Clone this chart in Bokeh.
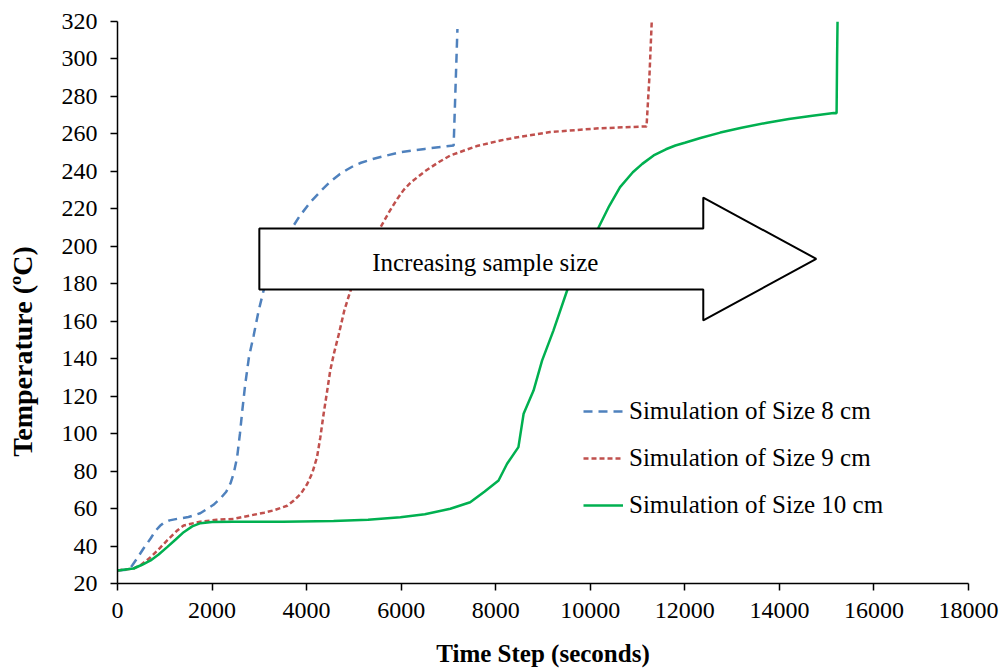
from bokeh.plotting import figure
from bokeh.models import Range1d, FixedTicker, Label, Legend, LegendItem
from bokeh.embed import file_html
from bokeh.resources import INLINE

# ---------------- data ----------------
size8_time = [0, 250, 310, 430, 550, 700, 800, 900, 975, 1100, 1262, 1500, 1750, 2030, 2180, 2300,
              2390, 2460, 2530, 2590, 2640, 2700, 2780, 2880, 2980, 3090, 3300, 3500, 3660, 3850,
              4080, 4300, 4500, 4700, 4860, 5000, 5150, 5400, 5700, 6000, 6500, 7110, 7150, 7190]
size8_temp = [27, 27.5, 29.6, 34, 38.7, 44, 48, 50.8, 52.3, 53.7, 54.5, 55.5, 57.5, 62, 65.5, 69,
              73.5, 79, 87.4, 100, 112.4, 126, 140.8, 152.4, 165, 176.4, 191, 201, 208.5, 216,
              223.6, 229.5, 234.5, 238.5, 241, 243, 244.6, 246.6, 248.5, 250.3, 252, 253.8, 285, 316]

size9_time = [0, 340, 500, 700, 900, 1050, 1250, 1400, 1750, 2100, 2460, 2810, 3100, 3300, 3590,
              3730, 3880, 4010, 4120, 4220, 4290, 4360, 4430, 4500, 4580, 4680, 4800, 4930, 5100,
              5300, 5560, 5750, 5910, 6050, 6200, 6500, 6800, 7040, 7600, 8100, 8520, 9150, 10200,
              11190, 11250, 11300]
size9_temp = [27, 28, 30, 34, 39, 43, 48, 51, 53, 54, 54.5, 56.3, 57.8, 59, 61.5,
              64.3, 68, 73, 79, 87.4, 98, 110.6, 122, 133.7, 143, 153, 166, 176.4, 188,
              199, 210, 218.5, 225, 230, 234, 240, 245, 248.5, 253.5, 256.5, 258.5, 261, 263,
              264, 290, 320]

size10_time = [0, 340, 520, 700, 870, 1050, 1230, 1400, 1580, 1755, 2000, 2460, 3500, 4570, 5300,
               5983, 6500, 7040, 7460, 7760, 8060, 8240, 8480, 8590, 8800, 8980, 9100, 9220,
               9510, 9800, 10000, 10175, 10400, 10630, 10900, 11100, 11340, 11600, 11800, 12000,
               12330, 12750, 13200, 13740, 14200, 14700, 15150, 15210, 15220, 15230]
size10_temp = [27, 28, 30, 32.3, 35.5, 39.4, 43.5, 47.4, 50.5, 52.2, 52.8, 53, 53, 53.3, 54,
               55.4, 57, 59.9, 63.4, 69, 75, 83.9, 92.8, 110.6, 123, 139, 147, 155,
               176.4, 192, 201.5, 210, 221.5, 231.6, 239.5, 244, 248.5, 251.8, 253.8, 255.3,
               257.8, 260.7, 263.3, 266, 268, 269.7, 271.2, 271, 300, 320]

series_names = ["Simulation of Size 8 cm", "Simulation of Size 9 cm", "Simulation of Size 10 cm"]

x_ticks = [0, 2000, 4000, 6000, 8000, 10000, 12000, 14000, 16000, 18000]
y_ticks = [20, 40, 60, 80, 100, 120, 140, 160, 180, 200, 220, 240, 260, 280, 300, 320]

# annotation arrow (data coordinates)
arrow_x = [3000, 12390, 12390, 14780, 12390, 12390, 3000]
arrow_y = [209.5, 209.5, 226, 193.3, 160.4, 177, 177]
arrow_text = "Increasing sample size"

FONT = "Liberation Serif"

p = figure(width=1004, height=671, output_backend="svg", toolbar_location=None,
           x_range=Range1d(0, 18000), y_range=Range1d(20, 320),
           min_border_left=117, min_border_right=36, min_border_top=21, min_border_bottom=88)
p.background_fill_color = "white"
p.border_fill_color = "white"
p.outline_line_color = None
p.xgrid.visible = False
p.ygrid.visible = False

r8 = p.line(size8_time, size8_temp, line_color="#4F81BD", line_width=2.5, line_dash="9 6")
r9 = p.line(size9_time, size9_temp, line_color="#C0504D", line_width=2.5, line_dash="5 3")
r10 = p.line(size10_time, size10_temp, line_color="#00B050", line_width=2.5)

# arrow annotation on top of lines
p.patch(arrow_x, arrow_y, fill_color="white", line_color="black", line_width=2)
p.add_layout(Label(x=7780, y=191.5, text=arrow_text, text_font=FONT, text_font_size="25px",
                   text_align="center", text_baseline="middle", text_color="black"))

for ax in (p.xaxis[0], p.yaxis[0]):
    ax.axis_line_color = "black"
    ax.axis_line_width = 1.5
    ax.major_tick_line_color = "black"
    ax.major_tick_line_width = 1.5
    ax.major_tick_out = 7
    ax.major_tick_in = 0
    ax.minor_tick_line_color = None
    ax.major_label_text_font = FONT
    ax.major_label_text_font_size = "24px"
    ax.major_label_text_color = "black"
    ax.axis_label_text_font = FONT
    ax.axis_label_text_font_style = "bold"
    ax.axis_label_text_color = "black"

p.xaxis.ticker = FixedTicker(ticks=x_ticks)
p.yaxis.ticker = FixedTicker(ticks=y_ticks)
p.xaxis.major_label_standoff = 12
p.yaxis.major_label_standoff = 13

p.xaxis.axis_label = "Time Step (seconds)"
p.xaxis.axis_label_text_font_size = "25px"
p.xaxis.axis_label_standoff = 19

# trailing no-break spaces shift the centred title toward the bottom, as in the original
p.yaxis.axis_label = "Temperature (ºC)" + "\u00a0" * 14
p.yaxis.axis_label_text_font_size = "28px"
p.yaxis.axis_label_standoff = 21

legend = Legend(items=[LegendItem(label=series_names[0], renderers=[r8]),
                       LegendItem(label=series_names[1], renderers=[r9]),
                       LegendItem(label=series_names[2], renderers=[r10])],
                location=(466, 64))
legend.border_line_color = None
legend.background_fill_alpha = 0
legend.padding = 0
legend.margin = 0
legend.glyph_width = 40
legend.glyph_height = 28
legend.label_height = 28
legend.spacing = 19
legend.label_standoff = 6
legend.label_text_font = FONT
legend.label_text_font_size = "25px"
legend.label_text_color = "black"
p.add_layout(legend)

open("out.html", "w").write(file_html(p, INLINE))
